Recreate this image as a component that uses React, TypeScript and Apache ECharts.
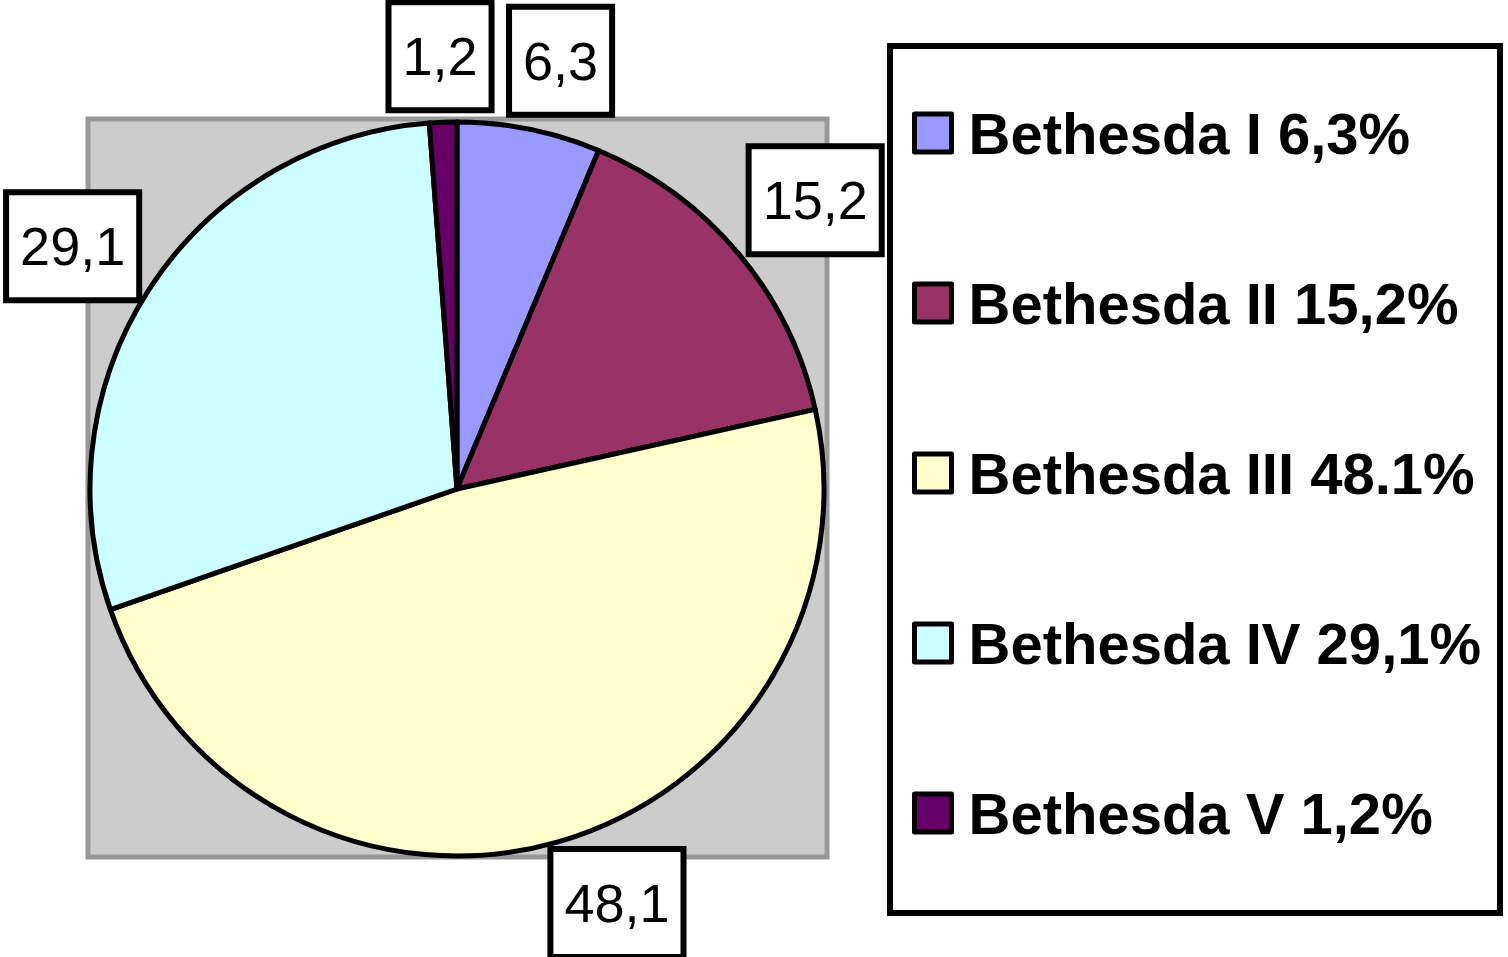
import React, { useEffect, useRef } from "react";
import * as echarts from "echarts";

const categories = ["Bethesda I", "Bethesda II", "Bethesda III", "Bethesda IV", "Bethesda V"];
const values = [6.3, 15.2, 48.1, 29.1, 1.2];
const valueLabels = ["6,3", "15,2", "48,1", "29,1", "1,2"];
const legendLabels = ["Bethesda I 6,3%", "Bethesda II 15,2%", "Bethesda III 48.1%", "Bethesda IV 29,1%", "Bethesda V 1,2%"];
const colors = ["#9999ff", "#993366", "#ffffcc", "#ccffff", "#660066"];

// small nudges of the value boxes away from the library's default placement
const labelNudges = [
  [15, 13],
  [13, 0],
  [37, -19],
  [-8, 4],
  [0, 17],
];

export default function App() {
  const ref = useRef<HTMLDivElement>(null);
  useEffect(() => {
    if (!ref.current) return;
    const chart = echarts.init(ref.current, null, { renderer: "svg" });
    const data = categories.map((name, i) => ({ name, value: values[i], itemStyle: { color: colors[i] } }));
    const labelData = categories.map((name, i) => ({ name, value: values[i] }));
    chart.setOption({
      animation: false,
      backgroundColor: "#ffffff",
      graphic: [
        {
          type: "rect",
          z: -10,
          shape: { x: 88, y: 119, width: 739, height: 738 },
          style: { fill: "#cccccc", stroke: "#989898", lineWidth: 5 },
        },
        {
          type: "rect",
          z: -10,
          shape: { x: 890, y: 46, width: 610, height: 867 },
          style: { fill: "#ffffff", stroke: "#000000", lineWidth: 6 },
        },
      ],
      legend: {
        orient: "vertical",
        left: 907,
        top: 99,
        itemWidth: 37,
        itemHeight: 38,
        itemGap: 112,
        icon: "rect",
        data: categories,
        itemStyle: { borderColor: "#000000", borderWidth: 5 },
        formatter: (name: string) => legendLabels[categories.indexOf(name)],
        textStyle: {
          fontFamily: "Liberation Sans, Arial, sans-serif",
          fontWeight: "bold",
          fontSize: 58,
          color: "#000000",
          padding: [0, 0, 0, 12],
        },
        selectedMode: false,
      },
      series: [
        {
          type: "pie",
          center: [457, 489],
          radius: [0, 367],
          startAngle: 90,
          clockwise: true,
          data,
          label: { show: false },
          labelLine: { show: false },
          itemStyle: { borderColor: "#000000", borderWidth: 5 },
          silent: true,
        },
        {
          type: "pie",
          center: [457, 489],
          radius: [442, 452],
          startAngle: 90,
          clockwise: true,
          avoidLabelOverlap: false,
          data: labelData,
          itemStyle: { color: "transparent", borderWidth: 0 },
          silent: true,
          legendHoverLink: false,
          label: {
            show: true,
            position: "inside",
            formatter: (p: any) => valueLabels[p.dataIndex],
            fontFamily: "Liberation Sans, Arial, sans-serif",
            fontSize: 54,
            lineHeight: 56,
            color: "#000000",
            backgroundColor: "#ffffff",
            borderColor: "#000000",
            borderWidth: 6,
            padding: [23, 11, 23, 11],
          },
          labelLayout: (p: any) => ({
            hideOverlap: false,
            dx: labelNudges[p.dataIndex][0],
            dy: labelNudges[p.dataIndex][1],
          }),
          labelLine: { show: false },
        },
      ],
    });
    return () => chart.dispose();
  }, []);
  return <div ref={ref} style={{ position: "fixed", left: 0, top: 0, width: 1508, height: 957 }} />;
}
